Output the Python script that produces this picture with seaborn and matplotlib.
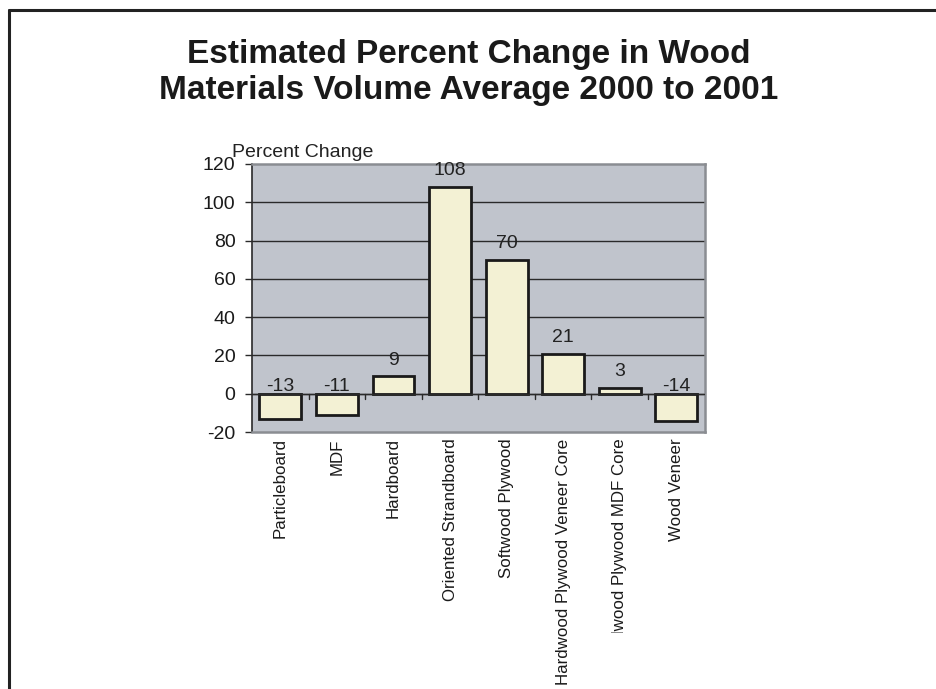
import matplotlib
matplotlib.use("Agg")
import matplotlib.pyplot as plt
from matplotlib.transforms import Bbox, TransformedBbox
import seaborn as sns
import pandas as pd

# data
categories = ["Particleboard", "MDF", "Hardboard", "Oriented Strandboard",
              "Softwood Plywood", "Hardwood Plywood Veneer Core",
              "Hardwood Plywood MDF Core", "Wood Veneer"]
pct_change = [-13, -11, 9, 108, 70, 21, 3, -14]
y_ticks = [-20, 0, 20, 40, 60, 80, 100, 120]

df = pd.DataFrame({"Material": categories, "Change": pct_change})

sns.set_style("white")
plt.rcParams["font.family"] = ["Liberation Sans", "DejaVu Sans"]

fig = plt.figure(figsize=(9.37, 6.89), dpi=100)
ax = fig.add_axes([0.269, 0.373, 0.483, 0.389])

sns.barplot(data=df, x="Material", y="Change", color="#F3F1D4",
            edgecolor="#1a1a1a", linewidth=2, width=0.74, saturation=1,
            ax=ax, zorder=3)

ax.set_facecolor("#C0C4CC")
ax.set_ylim(-20, 120)
ax.set_xlim(-0.5, len(categories) - 0.5)
ax.set_yticks(y_ticks)
ax.set_yticklabels([str(t) for t in y_ticks], fontsize=14, color="#1a1a1a")
for t in y_ticks:
    if t not in (-20, 120):
        ax.axhline(t, color="#2a2a2a", lw=1.0, zorder=1)

# zero line with small ticks between the categories
ax.axhline(0, color="#2a2a2a", lw=1.0, zorder=4)
for i in range(1, len(categories)):
    ax.plot([i - 0.5, i - 0.5], [0, -2.5], color="#2a2a2a", lw=1.0,
            zorder=4, clip_on=False)

ax.set_xticks(range(len(categories)))
labels = ax.set_xticklabels(categories, rotation=90, fontsize=12.2, va="top",
                            color="#1a1a1a")
# the original chart cuts off the MDF Core label part way down
clip = TransformedBbox(Bbox([[0, 56 / 689], [1, 1]]), fig.transFigure)
labels[6].set_clip_box(clip)
labels[6].set_clip_on(True)

ax.tick_params(axis="x", length=0, pad=4.5)
ax.tick_params(axis="y", length=5, width=1, color="#2a2a2a", pad=7, left=True)
ax.set_xlabel("")
ax.set_ylabel("")

for s in ["top", "right", "bottom"]:
    ax.spines[s].set_color("#8a8d92")
    ax.spines[s].set_linewidth(1.8)
ax.spines["left"].set_color("#2a2a2a")
ax.spines["left"].set_linewidth(1.2)

# value labels: above the bar for gains, just above zero for losses
for i, v in enumerate(pct_change):
    y = v + 6 if v > 0 else 1.5
    ax.text(i, y, str(v), ha="center", va="baseline",
            fontsize=14, color="#222222", zorder=5)

fig.text(0.2476, 0.772, "Percent Change", fontsize=14, ha="left",
         va="baseline", color="#222222")

fig.text(0.5, 0.9086, "Estimated Percent Change in Wood",
         ha="center", va="baseline", fontsize=24, fontweight="bold",
         color="#1a1a1a")
fig.text(0.5, 0.8563, "Materials Volume Average 2000 to 2001",
         ha="center", va="baseline", fontsize=24, fontweight="bold",
         color="#1a1a1a")

# L-shaped frame on top and left edges
fig.add_artist(plt.Line2D([0.0097, 0.0097], [0, 0.985], color="#222222",
                          lw=2.2, transform=fig.transFigure))
fig.add_artist(plt.Line2D([0.0097, 1.0], [0.985, 0.985], color="#222222",
                          lw=2.2, transform=fig.transFigure))

fig.savefig("out.png", dpi=100)
